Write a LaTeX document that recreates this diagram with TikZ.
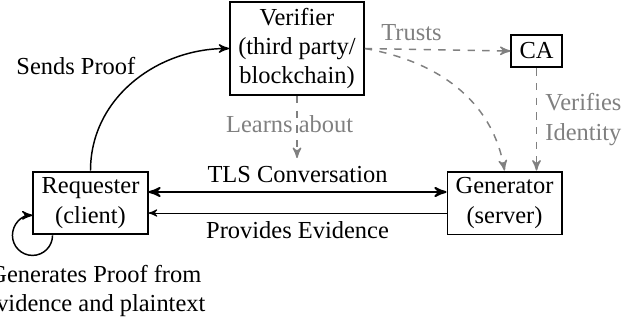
\documentclass[tikz,border=0pt]{standalone}
\usepackage{fontspec}
\setmainfont{Liberation Serif}
\usetikzlibrary{arrows,positioning,calc}

\begin{document}
\begin{tikzpicture}[
  x=0.409pt,
  y=0.409pt,
  >=stealth',
  party/.style={
    draw,
    thick,
    align=center,
    inner ysep=2.5pt
    },
  msg/.style={->, semithick},
  trust/.style={->, semithick, dashed, gray}
]
\useasboundingbox (0,0) rectangle (638,320);

\node[party] (requester) at (90.5,117) {Requester\\(client)};
\node[party] (generator) at (504.5,117) {Generator\\(server)};
\node[party] (verifier) at (297,271.5) {Verifier\\(third party/\\blockchain)};
\node[party, inner ysep=3.33pt] (ca) at (536.5,269) {CA};
\coordinate (learned) at (297,162);

\draw[<->, thick]
  ([yshift=4.5pt]requester.east) -- node[above] {TLS Conversation} ([yshift=4.5pt]generator.west);
\draw[->]
  ([yshift=-4.1pt]generator.west) -- node[below] {Provides Evidence} ([yshift=-4.1pt]requester.east);

\draw[msg] (requester.north) to[out=90, in=180]
  node[pos=0.6, left=2pt, yshift=2pt] {Sends Proof} (verifier.west);
\draw[msg] ([xshift=8.2pt]requester.south west) arc[start angle=0, end angle=-270, radius=8.2pt];
\node[below=8.6pt of requester, xshift=2pt, align=center]
  (genlabel) {Generates Proof from\\evidence and plaintext};

% grey: what the verifier relies on
\draw[trust] (verifier.east) -- node[pos=0.32, above] {Trusts} (ca.west);
\draw[trust] (verifier.east) to[out=-10, in=100] (generator.north);
\draw[trust] (ca.south) -- node[midway, right, align=left] {Verifies\\Identity} (ca.south |- generator.north);
\draw[trust] (verifier.south) -- node[pos=0.45, xshift=-3pt] {Learns about} (learned);
\end{tikzpicture}
\end{document}
